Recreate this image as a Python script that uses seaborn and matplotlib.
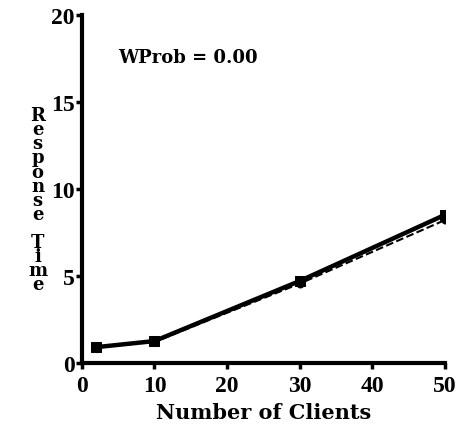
import seaborn as sns
import pandas as pd
import matplotlib.pyplot as plt

###################
# Data
clients = [2, 10, 30, 50]
resp_solid = [0.9, 1.25, 4.7, 8.5]
resp_dashed = [0.9, 1.2, 4.55, 8.2]
x_ticks = [0, 10, 20, 30, 40, 50]
y_ticks = [0, 5, 10, 15, 20]

data = pd.DataFrame({
    "Clients": clients * 2,
    "Time": resp_solid + resp_dashed,
    "Series": ["solid"] * len(clients) + ["dashed"] * len(clients),
})

###################
# Setup
sns.set_style("ticks", {"axes.edgecolor": "black", "text.color": "black",
                        "xtick.color": "black", "ytick.color": "black",
                        "axes.labelcolor": "black"})
plt.rcParams["font.family"] = ["DejaVu Serif"]

fig = plt.figure(figsize=(4.6, 4.27), dpi=100)
ax = fig.add_axes([0.178, 0.148, 0.789, 0.815])

sns.lineplot(data[data["Series"] == "dashed"], ax=ax, x="Clients", y="Time",
             color="black", linewidth=1.5, linestyle="--", marker="o",
             markersize=5, markeredgecolor="black")
sns.lineplot(data[data["Series"] == "solid"], ax=ax, x="Clients", y="Time",
             color="black", linewidth=3.2, marker="s", markersize=7,
             markeredgecolor="black")

ax.set_xlim(0, 50)
ax.set_ylim(0, 20)
ax.set_xticks(x_ticks)
ax.set_yticks(y_ticks)
ax.tick_params(labelsize=17, width=2.5, length=4, direction="out", pad=1,
               colors="black")
ax.tick_params(axis="x", pad=5)
for lab in ax.get_xticklabels() + ax.get_yticklabels():
    lab.set_fontweight("bold")
    lab.set_family("Liberation Serif")
for sp in ["left", "bottom"]:
    ax.spines[sp].set_linewidth(3)
    ax.spines[sp].set_color("black")
sns.despine(ax=ax, top=True, right=True)

ax.set_xlabel("Number of Clients", fontsize=15, fontweight="bold", labelpad=4,
              color="black")
ax.set_ylabel("")
fig.text(0.082, 0.53, "\n".join("Response") + "\n\n" + "\n".join("Time"),
         ha="center", va="center", fontsize=13, fontweight="bold",
         linespacing=0.72, color="black")

ax.text(5, 17.6, "WProb = 0.00", fontsize=13, fontweight="bold", va="center",
        color="black")

###################
# Export
fig.savefig("out.png", dpi=100)
